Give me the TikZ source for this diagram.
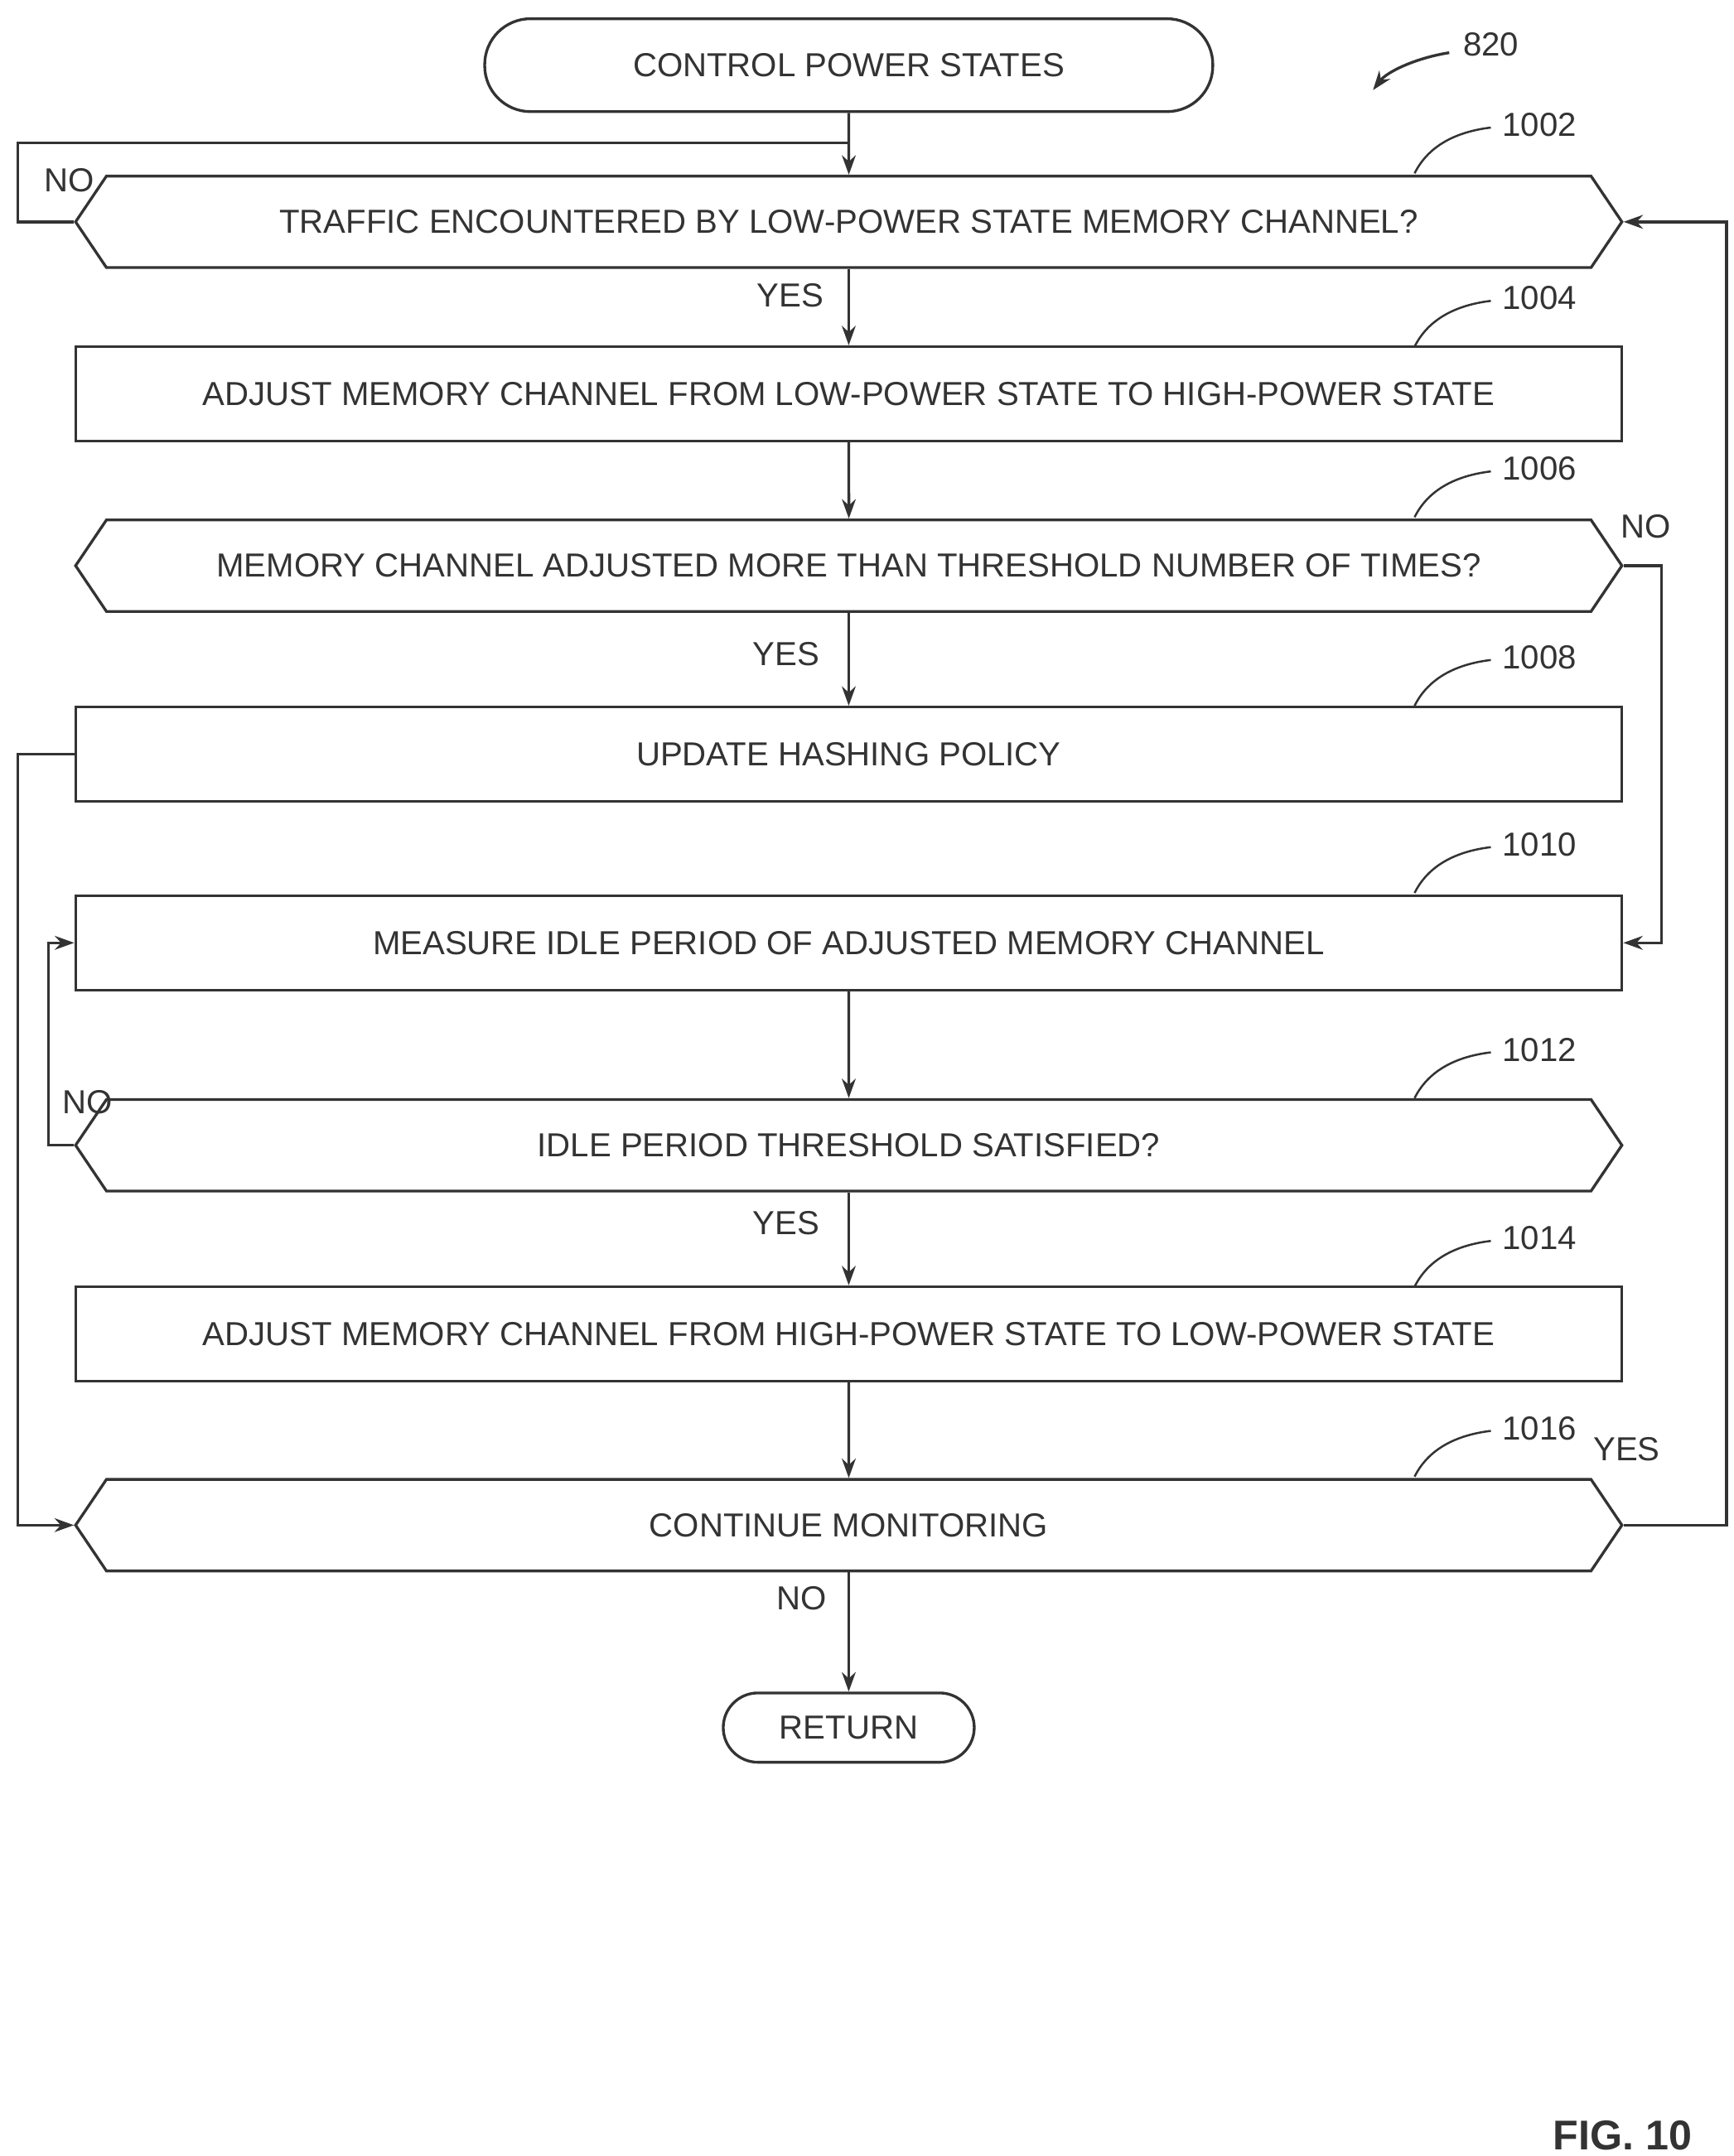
\documentclass[tikz,border=0pt]{standalone}
\usepackage{fontspec}
\setmainfont{Liberation Sans}
\usetikzlibrary{shapes.symbols,arrows.meta}
\definecolor{ink}{HTML}{333333}
\begin{document}
\begin{tikzpicture}[x=1pt,y=-1pt,line width=2pt,draw=ink,
  every node/.style={text=ink,font=\fontsize{24}{28}\selectfont},
  box/.style={draw,rectangle,minimum width=1115pt,minimum height=68pt,inner sep=0pt},
  dec/.style={draw,signal,signal to=east and west,signal pointer angle=112,minimum width=1115pt,minimum height=66pt,inner sep=0pt},
  term/.style={draw,rounded corners=25pt,minimum height=50pt,inner sep=0pt},
  arr/.style={-{Stealth[length=14pt,width=10pt]}},
  lab/.style={font=\fontsize{24}{28}\selectfont}]
\useasboundingbox (0,0) rectangle (1250,1555);
\node[term,minimum width=525pt,minimum height=67pt,rounded corners=33pt] (s) at (612,47) {CONTROL POWER STATES};
\node[dec] (d2) at (612,160) {TRAFFIC ENCOUNTERED BY LOW-POWER STATE MEMORY CHANNEL?};
\node[box] (b4) at (612,284) {ADJUST MEMORY CHANNEL FROM LOW-POWER STATE TO HIGH-POWER STATE};
\node[dec] (d6) at (612,408) {MEMORY CHANNEL ADJUSTED MORE THAN THRESHOLD NUMBER OF TIMES?};
\node[box] (b8) at (612,544) {UPDATE HASHING POLICY};
\node[box] (b10) at (612,680) {MEASURE IDLE PERIOD OF ADJUSTED MEMORY CHANNEL};
\node[dec] (d12) at (612,826) {IDLE PERIOD THRESHOLD SATISFIED?};
\node[box] (b14) at (612,962) {ADJUST MEMORY CHANNEL FROM HIGH-POWER STATE TO LOW-POWER STATE};
\node[dec] (d16) at (612,1100) {CONTINUE MONITORING};
\node[term,minimum width=181pt] (r) at (612,1246) {RETURN};
\node[font=\bfseries\fontsize{30}{34}\selectfont] (fig) at (1170,1540) {FIG. 10};
% refs
\node (n820) at (1075,32) {820};
\coordinate (a820) at (990,65);
\draw[arr] (1045,38) .. controls (1020,42) and (1000,52) .. (a820);
\foreach \n/\y in {1002/90,1004/215,1006/338,1008/474,1010/609,1012/757,1014/893,1016/1030}{
  \node (l\n) at (1110,\y) {\n};
  \draw[line width=1.5pt] (1020,\y+35) .. controls (1030,\y+15) and (1050,\y+5) .. (1075,\y+2);
}
% connectors
\coordinate (j) at (612,103);
\draw[arr] (s) -- (d2);
\draw (d2.west) -- (13,160) -- (13,103) -- (j);
\node at (50,130) {NO};
\draw[arr] (d2) -- (b4); \node at (570,213) {YES};
\draw[arr] (b4) -- (d6);
\draw[arr] (d6) -- (b8); \node at (567,472) {YES};
\draw[arr] (d6.east) -- (1198,408) -- (1198,680) -- (b10.east); \node at (1187,380) {NO};
\draw[arr] (b8.west) -- (13,544) -- (13,1100) -- (d16.west);
\draw[arr] (b10) -- (d12);
\draw[arr] (d12.west) -- (35,826) -- (35,680) -- (b10.west); \node at (63,795) {NO};
\draw[arr] (d12) -- (b14); \node at (567,882) {YES};
\draw[arr] (b14) -- (d16);
\draw[arr] (d16.east) -- (1245,1100) -- (1245,160) -- (d2.east); \node at (1173,1045) {YES};
\draw[arr] (d16) -- (r); \node at (578,1153) {NO};
\end{tikzpicture}
\end{document}
